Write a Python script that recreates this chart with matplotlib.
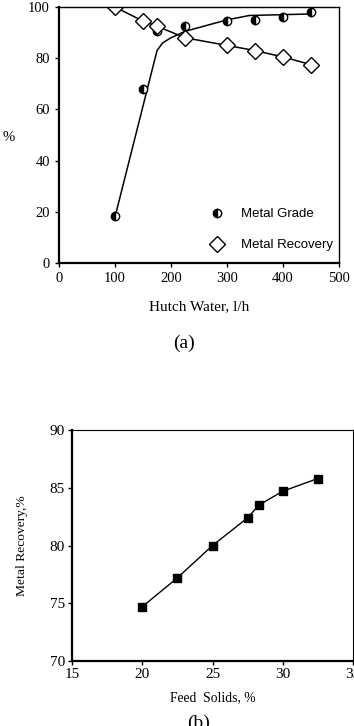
import matplotlib.pyplot as plt

# (a) Hutch water
water = [100, 150, 175, 225, 300, 350, 400, 450]
grade = [18.5, 68, 90.5, 92.5, 94.5, 95, 96, 98]
recovery = [100, 94.5, 92.5, 88, 85, 83, 80.5, 77.5]
# fitted grade curve
fit_water = [100, 175, 185, 200, 225, 250, 300, 340, 450]
fit_grade = [18, 83, 86, 88, 90.5, 92, 95, 96.7, 97.3]

# (b) Feed solids
solids = [20, 22.5, 25, 27.5, 28.3, 30, 32.5]
sol_recovery = [74.7, 77.2, 80, 82.4, 83.5, 84.7, 85.8]

serif = 'Liberation Serif'
sans = 'Liberation Sans'

fig = plt.figure(figsize=(3.54, 7.26), dpi=100)

# --- plot (a)
ax1 = fig.add_axes([0.1667, 0.6377, 0.791, 0.3526])
ax1.plot(fit_water, fit_grade, color='black', lw=1.1)
ax1.plot(water, recovery, color='black', lw=1.1)
ax1.plot(water, grade, ls='none', marker='o', ms=6, mfc='black', mec='black',
         fillstyle='left', markerfacecoloralt='white', mew=1.0, label='Metal Grade')
ax1.plot(water, recovery, ls='none', marker='D', ms=8, mfc='white', mec='black',
         mew=1.0, label='Metal Recovery')
ax1.set_xlim(0, 500)
ax1.set_ylim(0, 100)
ax1.set_xticks(range(0, 501, 100))
ax1.set_yticks(range(0, 101, 20))
ax1.set_ylabel('%', family=serif, fontsize=10.5, rotation=0, va='center')
ax1.yaxis.set_label_coords(-0.18, 0.49)
ax1.set_xlabel('Hutch Water, l/h', family=serif, fontsize=11, labelpad=11)
for lab in ax1.get_xticklabels() + ax1.get_yticklabels():
    lab.set_family(serif)
    lab.set_fontsize(10.5)
ax1.tick_params(direction='out', length=3, width=1)
for s in ['left', 'bottom']:
    ax1.spines[s].set_linewidth(1.6)
for s in ['top', 'right']:
    ax1.spines[s].set_linewidth(1.0)
ax1.legend(loc='lower right', frameon=False, prop={'family': sans, 'size': 9.5},
           handletextpad=0.8, labelspacing=1.4, bbox_to_anchor=(1.02, 0.0))

fig.text(0.52, 0.5275, '(a)', family=serif, fontsize=14, ha='center', va='center')

# --- plot (b)
ax2 = fig.add_axes([0.2034, 0.0895, 0.7938, 0.3182])
ax2.plot(solids, sol_recovery, color='black', lw=1.0, marker='s', ms=6,
         mfc='black', mec='black')
ax2.set_xlim(15, 35)
ax2.set_ylim(70, 90)
ax2.set_xticks(range(15, 36, 5))
ax2.set_yticks(range(70, 91, 5))
for lab in ax2.get_xticklabels() + ax2.get_yticklabels():
    lab.set_family(serif)
    lab.set_fontsize(11)
ax2.set_xlabel('Feed  Solids, %', family=serif, fontsize=9.8, labelpad=7)
ax2.set_ylabel('Metal Recovery,%', family=serif, fontsize=9.7, labelpad=16)
ax2.tick_params(direction='out', length=3, width=1, pad=2)
for s in ['left', 'bottom']:
    ax2.spines[s].set_linewidth(1.6)
for s in ['top', 'right']:
    ax2.spines[s].set_linewidth(0.8)

fig.text(0.56, 0.004, '(b)', family=serif, fontsize=14, ha='center', va='center')

fig.savefig('out.png', dpi=100)
